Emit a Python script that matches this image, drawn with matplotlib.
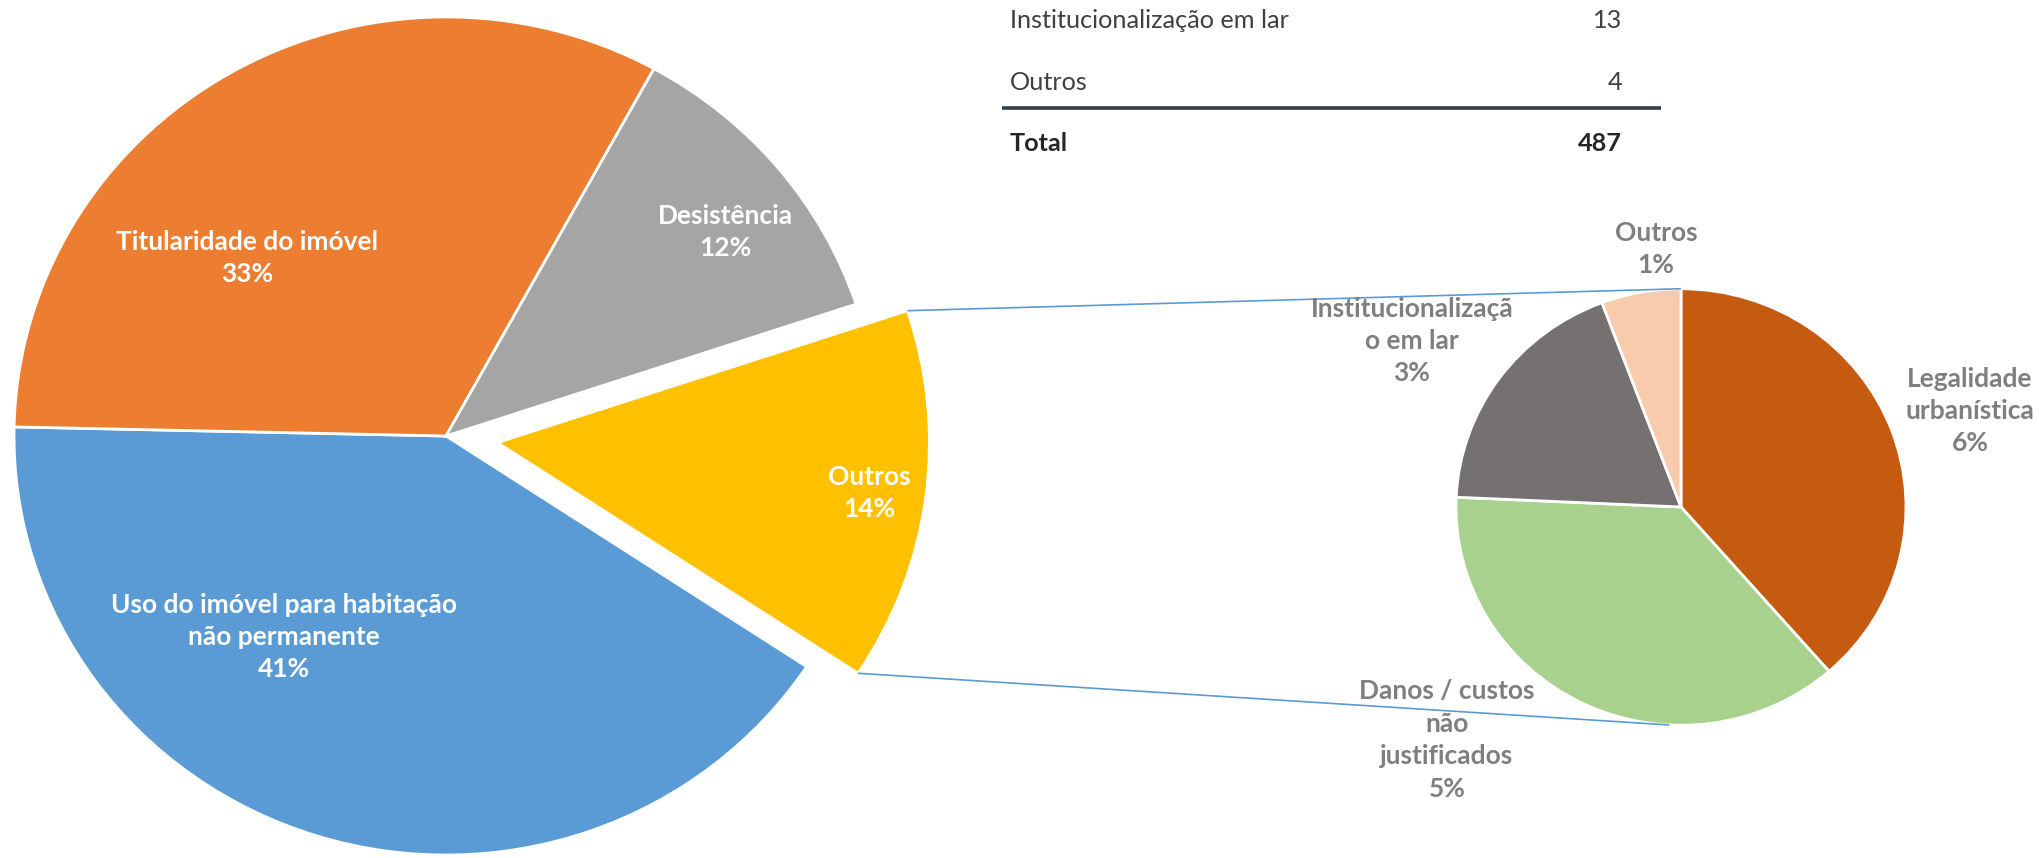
import matplotlib
matplotlib.use("Agg")
import matplotlib.pyplot as plt
import numpy as np

# --- dados (contagens; total = 487) ---
main_labels = ["Uso do imóvel para habitação\nnão permanente", "Titularidade do imóvel",
               "Desistência", "Outros"]
main_counts = [200, 159, 58, 70]
sub_labels = ["Legalidade\nurbanística", "Danos / custos\nnão\njustificados",
              "Institucionalizaçã\no em lar", "Outros"]
sub_counts = [27, 26, 13, 4]
table_names = ["Institucionalização em lar", "Outros"]
table_values = sub_counts[2:]

# --- estilo ---
main_colors = ["#5B9BD5", "#ED7D31", "#A5A5A5", "#FFC000"]
sub_colors = ["#C55A11", "#A9D18E", "#767171", "#F8CBAD"]
LINE = "#5B9BD5"; GREY_TXT = "#7F7F7F"; TXT = "#404040"
FONT = "Lato"; LS = 1.42
W, H, SY = 2040, 858, 0.97          # a imagem original está ligeiramente achatada na vertical

def P(x, y):
    """pixel (origem em cima) -> coordenadas de dados"""
    return x, (H - y) / SY

total = sum(main_counts)
pct = lambda v: f"{round(100 * v / total)}%"

fig = plt.figure(figsize=(W / 100, H / 100), dpi=100)
ax = fig.add_axes([0, 0, 1, 1])

R1 = 432
wedges, _ = ax.pie(main_counts, colors=main_colors, startangle=-33.4, counterclock=False,
                   radius=R1, center=P(446, 436), explode=[0, 0, 0, 0.12 * R1],
                   wedgeprops=dict(edgecolor="white", linewidth=2))
R2 = 225
swedges, _ = ax.pie(sub_counts, colors=sub_colors, startangle=90, counterclock=False,
                    radius=R2, center=P(1681, 507),
                    wedgeprops=dict(edgecolor="white", linewidth=2))
ax.set_aspect("auto"); ax.set_xlim(0, W); ax.set_ylim(0, H / SY); ax.axis("off")

# rótulos
main_pos = [(284, 637), (247, 258), (725, 232), (869, 493)]
for lab, v, (x, y) in zip(main_labels, main_counts, main_pos):
    ax.text(*P(x, y), f"{lab}\n{pct(v)}", ha="center", va="center", color="white",
            fontsize=19, fontweight="bold", family=FONT, linespacing=LS)
sub_pos = [(1970, 411), (1447, 740), (1412, 341), (1656, 249)]
for lab, v, (x, y) in zip(sub_labels, sub_counts, sub_pos):
    ax.text(*P(x, y), f"{lab}\n{pct(v)}", ha="center", va="center", color=GREY_TXT,
            fontsize=19, fontweight="bold", family=FONT, linespacing=LS)

# linhas de ligação entre "Outros" e o segundo gráfico
w = wedges[3]; sw = swedges[0]
def on(wd, ang):
    a = np.radians(ang)
    return wd.center[0] + wd.r * np.cos(a), wd.center[1] + wd.r * np.sin(a)
for a_from, a_to in [(w.theta2, 90), (w.theta1, -93)]:
    (x0, y0), (x1, y1) = on(w, a_from), on(sw, a_to)
    ax.plot([x0, x1], [y0, y1], color=LINE, lw=1.2, solid_capstyle="butt")

# tabela (parte visível)
rows_y = [20, 82]
for name, v, y in zip(table_names, table_values, rows_y):
    ax.text(*P(1010, y), name, ha="left", va="center", fontsize=18.2, color=TXT, family=FONT)
    ax.text(*P(1622, y), str(v), ha="right", va="center", fontsize=18.2, color=TXT, family=FONT)
ax.plot([P(1002, 108)[0], P(1661, 108)[0]], [P(0, 108)[1]] * 2, color="#333F4F", lw=2.6,
        solid_capstyle="butt")
ax.text(*P(1010, 143), "Total", ha="left", va="center", fontsize=18.2, fontweight="bold",
        color="#262626", family=FONT)
ax.text(*P(1622, 143), str(total), ha="right", va="center", fontsize=18.2, fontweight="bold",
        color="#262626", family=FONT)

fig.savefig("out.png", dpi=100, facecolor="white")
